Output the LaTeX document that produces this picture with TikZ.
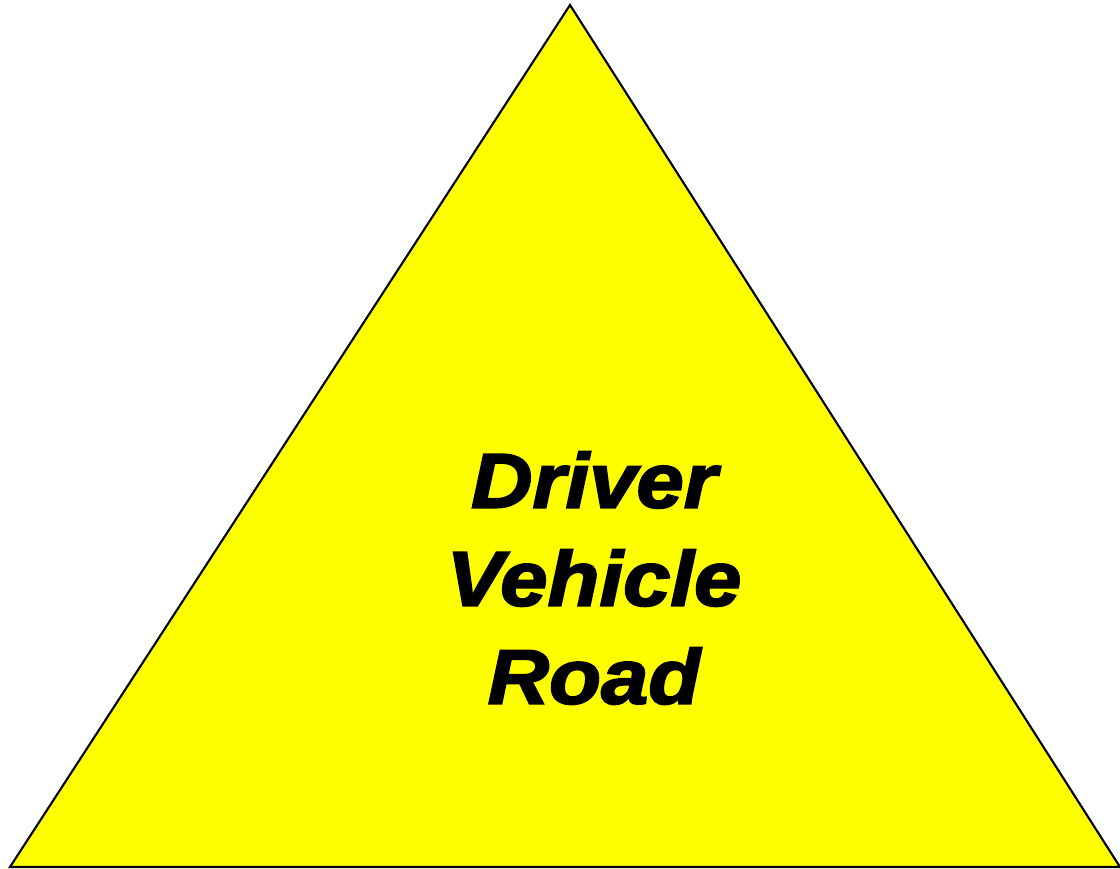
\documentclass[tikz,border=0pt]{standalone}
\usepackage{fontspec}
\setmainfont{Liberation Sans}
\newfontfamily\cartello[FakeBold=2.5, FakeStretch=1.1]{Liberation Sans}
\definecolor{giallo}{RGB}{255,255,0}

\begin{document}
\begin{tikzpicture}[scale=1]
\useasboundingbox (0,0) rectangle (11.2,8.69);

% Vertici del triangolo
\coordinate (vertice) at (5.70,8.64);
\coordinate (basesx) at (0.10,0.02);
\coordinate (basedx) at (11.20,0.02);

% Triangolo giallo
\draw[fill=giallo, draw=black, line width=0.6pt, line join=miter]
  (vertice) -- (basedx) -- (basesx) -- cycle;

% Testo al centro
\node[inner sep=0pt, align=center, font=\cartello\bfseries\itshape\fontsize{22}{27.9}\selectfont]
  (sistema) at (5.94,2.91) {Driver\\Vehicle\\Road};

\end{tikzpicture}
\end{document}
